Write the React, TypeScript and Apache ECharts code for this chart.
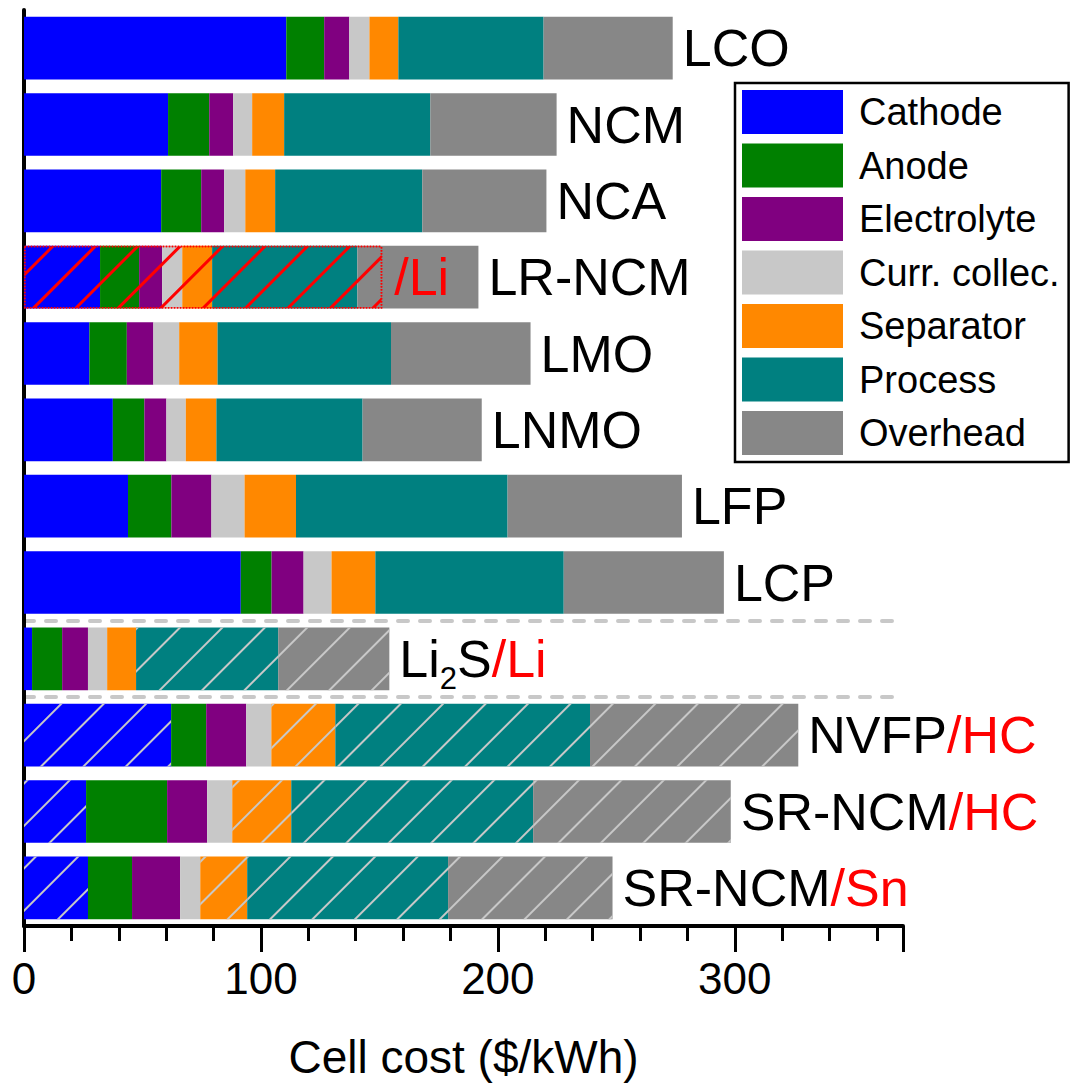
import React, { useEffect, useRef } from "react";
import * as echarts from "echarts";

// ---------- data ----------
const categories = [
  "LCO", "NCM", "NCA", "LR-NCM", "LMO", "LNMO", "LFP", "LCP",
  "Li2S/Li", "NVFP/HC", "SR-NCM/HC", "SR-NCM/Sn",
];
const cathode = [110.7, 60.8, 57.9, 32.1, 27.6, 37.5, 43.9, 91.5, 3.4, 62.1, 26.2, 27.0];
const anode = [16.0, 17.4, 16.9, 16.5, 15.8, 13.3, 18.3, 13.0, 12.7, 14.8, 34.2, 18.6];
const electrolyte = [10.6, 10.1, 9.7, 9.7, 11.2, 9.3, 16.9, 13.5, 10.9, 16.9, 16.9, 20.3];
const currCollector = [8.5, 8.0, 8.9, 8.5, 10.9, 8.2, 14.0, 11.8, 8.1, 10.6, 10.6, 8.5];
const separator = [12.2, 13.5, 12.6, 12.6, 16.2, 12.9, 21.7, 18.5, 12.2, 27.0, 24.9, 19.8];
const processCost = [61.3, 61.7, 62.1, 61.3, 73.2, 61.7, 89.3, 79.5, 60.0, 107.5, 102.1, 84.8];
const overhead = [54.5, 53.3, 52.4, 51.1, 58.9, 50.3, 73.6, 67.6, 46.9, 87.9, 83.4, 69.4];
// Li-metal anode share marked on LR-NCM (red hatched box)
const liAnodeMark = [null, null, null, 151.2, null, null, null, null, null, null, null, null];

const seriesNames = ["Cathode", "Anode", "Electrolyte", "Curr. collec.", "Separator", "Process", "Overhead"];
const seriesValues = [cathode, anode, electrolyte, currCollector, separator, processCost, overhead];
const seriesColors = ["#0000FF", "#008000", "#800080", "#C8C8C8", "#FF8800", "#008080", "#878787"];
// rows (category indices) drawn with the light hatch, per series
const hatchCathode = [9, 10, 11];
const hatchAnode: number[] = [];
const hatchElectrolyte: number[] = [];
const hatchCurrCollector: number[] = [];
const hatchSeparator = [9, 10, 11];
const hatchProcess = [8, 9, 10, 11];
const hatchOverhead = [8, 9, 10, 11];
const hatchRows = [hatchCathode, hatchAnode, hatchElectrolyte, hatchCurrCollector, hatchSeparator, hatchProcess, hatchOverhead];

const barLabels = [
  "{b|LCO}", "{b|NCM}", "{b|NCA}", "{b|LR-NCM}", "{b|LMO}", "{b|LNMO}", "{b|LFP}", "{b|LCP}",
  "{b|Li}{s|2}{b|S}{r|/Li}", "{b|NVFP}{r|/HC}", "{b|SR-NCM}{r|/HC}", "{b|SR-NCM}{r|/Sn}",
];
const separatorRows = [8, 9];
const xTicks = { min: 0, max: 371, interval: 100 };

const FONT = "'Liberation Sans', Arial, sans-serif";

export default function App() {
  const ref = useRef<HTMLDivElement>(null);
  useEffect(() => {
    if (!ref.current) return;
    const chart = echarts.init(ref.current, null, { renderer: "svg" });
    const lightHatch = {
      symbol: "rect",
      symbolSize: 1,
      color: "#C8C8C8",
      dashArrayX: [1, 0],
      dashArrayY: [2, 28],
      rotation: -Math.PI / 4,
    };
    const redHatch = {
      symbol: "rect",
      symbolSize: 1,
      color: "#FF0000",
      dashArrayX: [1, 0],
      dashArrayY: [3, 27],
      rotation: -Math.PI / 4,
    };
    const rich = {
      b: { fontSize: 52, color: "#000", fontFamily: FONT, lineHeight: 56 },
      r: { fontSize: 52, color: "#FF0000", fontFamily: FONT, lineHeight: 56 },
      s: { fontSize: 31, color: "#000", fontFamily: FONT, lineHeight: 31, padding: [40, 0, 0, 0] },
    };
    const stacked = seriesNames.map((name, si) => ({
      name,
      type: "bar",
      stack: "total",
      barCategoryGap: "18%",
      itemStyle: { color: seriesColors[si] },
      data: seriesValues[si].map((v, i) =>
        hatchRows[si].includes(i) ? { value: v, itemStyle: { decal: lightHatch } } : v
      ),
      label:
        si === seriesNames.length - 1
          ? {
              show: true,
              position: "right",
              distance: 10,
              formatter: (p: any) => barLabels[p.dataIndex],
              rich,
            }
          : { show: false },
    }));
    const overlay = {
      name: "Li anode",
      type: "bar",
      stack: "mark",
      barGap: "-100%",
      z: 5,
      itemStyle: {
        color: "transparent",
        borderColor: "#FF0000",
        borderWidth: 1.5,
        borderType: "dotted",
        decal: redHatch,
      },
      label: {
        show: true,
        position: "right",
        distance: 12,
        formatter: "{r|/Li}",
        rich,
      },
      data: liAnodeMark,
    };
    chart.setOption({
      animation: false,
      textStyle: { fontFamily: FONT },
      grid: { left: 24, right: 188, top: 10, bottom: 154, containLabel: false },
      legend: {
        data: seriesNames,
        orient: "vertical",
        left: 735,
        top: 83,
        icon: "rect",
        itemWidth: 101,
        itemHeight: 44,
        itemGap: 9.5,
        padding: [7, 9, 7, 7],
        borderColor: "#000",
        borderWidth: 2.5,
        backgroundColor: "#fff",
        textStyle: { fontSize: 38, color: "#000", fontFamily: FONT, padding: [0, 0, 0, 11] },
      },
      xAxis: {
        type: "value",
        min: xTicks.min,
        max: xTicks.max,
        interval: xTicks.interval,
        name: "Cell cost ($/kWh)",
        nameLocation: "middle",
        nameGap: 108,
        nameTextStyle: { fontSize: 46, color: "#000", fontFamily: FONT },
        axisLine: { show: true, lineStyle: { color: "#000", width: 4 } },
        axisTick: { show: true, length: 26, lineStyle: { color: "#000", width: 3 } },
        minorTick: { show: true, splitNumber: 5, length: 15, lineStyle: { color: "#000", width: 3 } },
        axisLabel: {
          fontSize: 44,
          color: "#000",
          margin: 30,
          fontFamily: FONT,
          showMaxLabel: false,
          formatter: (v: number) => (v % xTicks.interval === 0 ? String(v) : ""),
        },
        splitLine: { show: false },
        minorSplitLine: { show: false },
      },
      yAxis: {
        type: "category",
        data: categories,
        inverse: true,
        axisLine: { show: true, lineStyle: { color: "#000", width: 4 } },
        axisTick: { show: false },
        axisLabel: { show: false },
        splitLine: {
          show: true,
          interval: (index: number) => separatorRows.includes(index),
          lineStyle: { color: "#C8C8C8", width: 4, type: [10, 12], cap: "round" },
        },
      },
      series: [...stacked, overlay],
    });
    return () => chart.dispose();
  }, []);
  return (
    <div
      ref={ref}
      style={{ position: "absolute", left: 0, top: 0, width: 1091, height: 1085, background: "#fff" }}
    />
  );
}
